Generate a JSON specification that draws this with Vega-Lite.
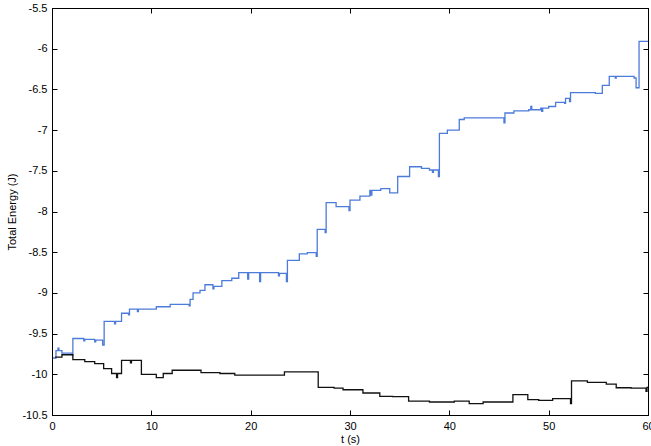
{
  "$schema": "https://vega.github.io/schema/vega-lite/v6.json",
  "width": 596,
  "height": 407,
  "autosize": {"type": "none"},
  "padding": {"left": 52, "top": 8, "right": 3, "bottom": 31},
  "background": "white",
  "config": {
    "view": {"stroke": "black", "strokeWidth": 1},
    "axis": {
      "grid": false,
      "domainColor": "black",
      "tickColor": "black",
      "labelColor": "black",
      "titleColor": "black",
      "labelFont": "Liberation Sans",
      "titleFont": "Liberation Sans",
      "labelFontSize": 11,
      "titleFontSize": 11,
      "titleFontWeight": "normal",
      "tickSize": -5,
      "labelPadding": 10
    }
  },
  "datasets": {
    "energy": [
      {"t": 0.1, "E": -9.80, "s": "blue"},
      {"t": 0.4, "E": -9.71, "s": "blue"},
      {"t": 0.6, "E": -9.68, "s": "blue"},
      {"t": 0.7, "E": -9.71, "s": "blue"},
      {"t": 1.0, "E": -9.74, "s": "blue"},
      {"t": 2.05, "E": -9.77, "s": "blue"},
      {"t": 2.1, "E": -9.56, "s": "blue"},
      {"t": 3.2, "E": -9.59, "s": "blue"},
      {"t": 3.3, "E": -9.57, "s": "blue"},
      {"t": 4.3, "E": -9.60, "s": "blue"},
      {"t": 4.4, "E": -9.58, "s": "blue"},
      {"t": 5.1, "E": -9.64, "s": "blue"},
      {"t": 5.25, "E": -9.35, "s": "blue"},
      {"t": 6.3, "E": -9.38, "s": "blue"},
      {"t": 6.4, "E": -9.35, "s": "blue"},
      {"t": 7.0, "E": -9.25, "s": "blue"},
      {"t": 7.7, "E": -9.27, "s": "blue"},
      {"t": 7.8, "E": -9.20, "s": "blue"},
      {"t": 8.6, "E": -9.23, "s": "blue"},
      {"t": 8.7, "E": -9.20, "s": "blue"},
      {"t": 10.5, "E": -9.17, "s": "blue"},
      {"t": 11.9, "E": -9.14, "s": "blue"},
      {"t": 13.8, "E": -9.16, "s": "blue"},
      {"t": 13.9, "E": -9.08, "s": "blue"},
      {"t": 14.2, "E": -9.00, "s": "blue"},
      {"t": 14.9, "E": -8.97, "s": "blue"},
      {"t": 15.4, "E": -8.90, "s": "blue"},
      {"t": 16.2, "E": -8.95, "s": "blue"},
      {"t": 16.3, "E": -8.92, "s": "blue"},
      {"t": 17.1, "E": -8.85, "s": "blue"},
      {"t": 18.1, "E": -8.82, "s": "blue"},
      {"t": 18.8, "E": -8.75, "s": "blue"},
      {"t": 19.7, "E": -8.83, "s": "blue"},
      {"t": 19.8, "E": -8.75, "s": "blue"},
      {"t": 20.9, "E": -8.86, "s": "blue"},
      {"t": 21.0, "E": -8.75, "s": "blue"},
      {"t": 22.8, "E": -8.79, "s": "blue"},
      {"t": 22.9, "E": -8.76, "s": "blue"},
      {"t": 23.6, "E": -8.86, "s": "blue"},
      {"t": 23.7, "E": -8.60, "s": "blue"},
      {"t": 24.9, "E": -8.52, "s": "blue"},
      {"t": 25.7, "E": -8.505, "s": "blue"},
      {"t": 26.6, "E": -8.55, "s": "blue"},
      {"t": 26.7, "E": -8.22, "s": "blue"},
      {"t": 27.5, "E": -8.26, "s": "blue"},
      {"t": 27.6, "E": -7.89, "s": "blue"},
      {"t": 28.6, "E": -7.94, "s": "blue"},
      {"t": 29.9, "E": -7.99, "s": "blue"},
      {"t": 30.0, "E": -7.86, "s": "blue"},
      {"t": 31.0, "E": -7.81, "s": "blue"},
      {"t": 32.0, "E": -7.74, "s": "blue"},
      {"t": 32.1, "E": -7.80, "s": "blue"},
      {"t": 32.2, "E": -7.74, "s": "blue"},
      {"t": 33.1, "E": -7.72, "s": "blue"},
      {"t": 34.0, "E": -7.77, "s": "blue"},
      {"t": 34.8, "E": -7.57, "s": "blue"},
      {"t": 36.0, "E": -7.45, "s": "blue"},
      {"t": 37.2, "E": -7.47, "s": "blue"},
      {"t": 38.0, "E": -7.49, "s": "blue"},
      {"t": 38.3, "E": -7.52, "s": "blue"},
      {"t": 38.4, "E": -7.49, "s": "blue"},
      {"t": 38.9, "E": -7.57, "s": "blue"},
      {"t": 39.0, "E": -7.04, "s": "blue"},
      {"t": 39.8, "E": -7.00, "s": "blue"},
      {"t": 41.0, "E": -6.87, "s": "blue"},
      {"t": 41.5, "E": -6.85, "s": "blue"},
      {"t": 45.5, "E": -6.91, "s": "blue"},
      {"t": 45.6, "E": -6.79, "s": "blue"},
      {"t": 46.5, "E": -6.765, "s": "blue"},
      {"t": 48.0, "E": -6.75, "s": "blue"},
      {"t": 48.2, "E": -6.71, "s": "blue"},
      {"t": 48.3, "E": -6.75, "s": "blue"},
      {"t": 49.2, "E": -6.73, "s": "blue"},
      {"t": 49.3, "E": -6.77, "s": "blue"},
      {"t": 49.4, "E": -6.73, "s": "blue"},
      {"t": 50.0, "E": -6.71, "s": "blue"},
      {"t": 50.7, "E": -6.66, "s": "blue"},
      {"t": 51.6, "E": -6.67, "s": "blue"},
      {"t": 51.7, "E": -6.61, "s": "blue"},
      {"t": 52.1, "E": -6.65, "s": "blue"},
      {"t": 52.2, "E": -6.54, "s": "blue"},
      {"t": 54.7, "E": -6.55, "s": "blue"},
      {"t": 55.4, "E": -6.45, "s": "blue"},
      {"t": 56.1, "E": -6.34, "s": "blue"},
      {"t": 56.7, "E": -6.36, "s": "blue"},
      {"t": 56.8, "E": -6.34, "s": "blue"},
      {"t": 58.6, "E": -6.36, "s": "blue"},
      {"t": 58.8, "E": -6.48, "s": "blue"},
      {"t": 59.1, "E": -5.91, "s": "blue"},
      {"t": 60.0, "E": -5.91, "s": "blue"},
      {"t": 0.3, "E": -9.79, "s": "black"},
      {"t": 1.0, "E": -9.76, "s": "black"},
      {"t": 2.1, "E": -9.82, "s": "black"},
      {"t": 3.3, "E": -9.845, "s": "black"},
      {"t": 4.3, "E": -9.87, "s": "black"},
      {"t": 5.2, "E": -9.93, "s": "black"},
      {"t": 6.0, "E": -9.99, "s": "black"},
      {"t": 6.5, "E": -10.04, "s": "black"},
      {"t": 6.6, "E": -9.99, "s": "black"},
      {"t": 7.0, "E": -9.83, "s": "black"},
      {"t": 7.9, "E": -9.86, "s": "black"},
      {"t": 8.0, "E": -9.83, "s": "black"},
      {"t": 9.0, "E": -10.00, "s": "black"},
      {"t": 10.5, "E": -10.04, "s": "black"},
      {"t": 11.2, "E": -9.99, "s": "black"},
      {"t": 12.1, "E": -9.95, "s": "black"},
      {"t": 15.0, "E": -9.98, "s": "black"},
      {"t": 16.9, "E": -9.99, "s": "black"},
      {"t": 18.4, "E": -10.01, "s": "black"},
      {"t": 23.4, "E": -9.97, "s": "black"},
      {"t": 26.8, "E": -10.16, "s": "black"},
      {"t": 28.4, "E": -10.17, "s": "black"},
      {"t": 29.3, "E": -10.19, "s": "black"},
      {"t": 31.3, "E": -10.23, "s": "black"},
      {"t": 33.0, "E": -10.27, "s": "black"},
      {"t": 34.3, "E": -10.275, "s": "black"},
      {"t": 35.9, "E": -10.33, "s": "black"},
      {"t": 38.0, "E": -10.34, "s": "black"},
      {"t": 40.5, "E": -10.33, "s": "black"},
      {"t": 42.0, "E": -10.36, "s": "black"},
      {"t": 43.4, "E": -10.34, "s": "black"},
      {"t": 46.4, "E": -10.25, "s": "black"},
      {"t": 47.9, "E": -10.31, "s": "black"},
      {"t": 49.0, "E": -10.32, "s": "black"},
      {"t": 50.4, "E": -10.30, "s": "black"},
      {"t": 52.2, "E": -10.36, "s": "black"},
      {"t": 52.3, "E": -10.08, "s": "black"},
      {"t": 53.9, "E": -10.10, "s": "black"},
      {"t": 55.8, "E": -10.12, "s": "black"},
      {"t": 56.8, "E": -10.165, "s": "black"},
      {"t": 58.3, "E": -10.17, "s": "black"},
      {"t": 59.8, "E": -10.21, "s": "black"},
      {"t": 59.9, "E": -10.16, "s": "black"},
      {"t": 60.0, "E": -10.16, "s": "black"}
    ]
  },
  "data": {"name": "energy"},
  "layer": [
    {
      "mark": {"type": "line", "interpolate": "step-after", "strokeWidth": 1.3, "clip": true},
      "encoding": {
        "x": {
          "field": "t", "type": "quantitative",
          "scale": {"domain": [0, 60], "nice": false},
          "axis": {"orient": "bottom", "title": "t (s)", "values": [0, 10, 20, 30, 40, 50, 60], "labelExpr": "'' + datum.value", "labelFlush": false, "labelOverlap": false, "labelBound": false, "titlePadding": 2}
        },
        "y": {
          "field": "E", "type": "quantitative",
          "scale": {"domain": [-10.5, -5.5], "nice": false, "zero": false},
          "axis": {"orient": "left", "title": "Total Energy (J)", "values": [-10.5, -10, -9.5, -9, -8.5, -8, -7.5, -7, -6.5, -6, -5.5], "labelExpr": "'' + datum.value", "labelFlush": false, "labelOverlap": false, "titlePadding": 4}
        },
        "color": {"field": "s", "type": "nominal", "scale": {"domain": ["blue", "black"], "range": ["#4d7bd9", "#111111"]}, "legend": null},
        "detail": {"field": "s"}
      }
    },
    {
      "mark": {"type": "line", "interpolate": "step-after", "opacity": 0},
      "encoding": {
        "x": {"field": "t", "type": "quantitative", "axis": {"orient": "top", "title": null, "labels": false, "values": [0, 10, 20, 30, 40, 50, 60]}},
        "y": {"field": "E", "type": "quantitative", "axis": {"orient": "right", "title": null, "labels": false, "values": [-10.5, -10, -9.5, -9, -8.5, -8, -7.5, -7, -6.5, -6, -5.5]}},
        "detail": {"field": "s"}
      }
    }
  ],
  "resolve": {"axis": {"x": "independent", "y": "independent"}}
}
